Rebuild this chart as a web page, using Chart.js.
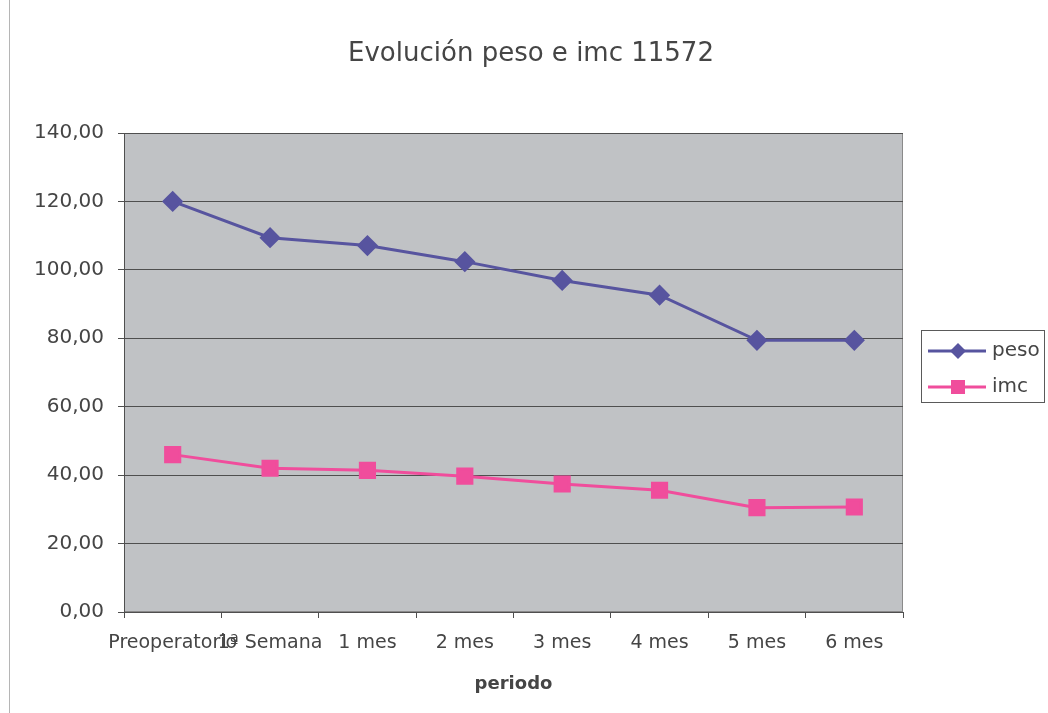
<!DOCTYPE html>
<html>
<head>
<meta charset="utf-8">
<script src="https://cdn.jsdelivr.net/npm/chart.js@4/dist/chart.umd.min.js"></script>
<style>
  html, body { margin: 0; padding: 0; background: #ffffff; }
  #wrap { position: relative; width: 1048px; height: 713px; }
  #edge { position: absolute; left: 9px; top: 0; width: 1px; height: 713px; background: #b5b5b5; }
  canvas { position: absolute; left: 0; top: 0; }
</style>
</head>
<body>
<div id="wrap">
  <canvas id="c" width="1048" height="713"></canvas>
  <div id="edge"></div>
</div>
<script>
const TITLE = 'Evolución peso e imc 11572';
const X_TITLE = 'periodo';
const CATEGORIES = ['Preoperatorio', '1ª Semana', '1 mes', '2 mes', '3 mes', '4 mes', '5 mes', '6 mes'];
const PESO = [120.0, 109.4, 107.1, 102.4, 96.9, 92.6, 79.4, 79.4];
const IMC = [46.0, 42.0, 41.4, 39.7, 37.4, 35.6, 30.5, 30.7];
const Y_TICKS = [0, 20, 40, 60, 80, 100, 120, 140];
const SERIES_NAMES = ['peso', 'imc'];
const SERIES_COLORS = ['#57549f', '#f04d9c'];

const FONT = '"DejaVu Sans", Verdana, sans-serif';
const TEXT = '#454545';
const GRID = '#4f4f4f';

const CA = { left: 124, right: 903, top: 133, bottom: 612 };

const plotBg = {
  id: 'plotBg',
  beforeDraw(chart) {
    const { ctx, chartArea: a } = chart;
    ctx.save();
    ctx.fillStyle = '#c0c2c5';
    ctx.fillRect(a.left, a.top, a.right - a.left, a.bottom - a.top);
    ctx.strokeStyle = '#8a8a8a';
    ctx.lineWidth = 1;
    ctx.strokeRect(a.left + 0.5, a.top + 0.5, a.right - a.left - 1, a.bottom - a.top - 1);
    ctx.restore();
  }
};

const titleAndLegend = {
  id: 'titleAndLegend',
  afterDraw(chart) {
    const { ctx } = chart;
    ctx.save();
    // title
    ctx.fillStyle = TEXT;
    ctx.font = '26px ' + FONT;
    ctx.textAlign = 'center';
    ctx.textBaseline = 'middle';
    ctx.fillText(TITLE, 531, 54);
    // legend
    const bx = 921, by = 330, bw = 124, bh = 73;
    ctx.fillStyle = '#ffffff';
    ctx.fillRect(bx, by, bw, bh);
    ctx.strokeStyle = '#5a5a5a';
    ctx.lineWidth = 1;
    ctx.strokeRect(bx + 0.5, by + 0.5, bw - 1, bh - 1);
    chart.data.datasets.forEach((ds, i) => {
      const y = by + 21 + i * 36;
      ctx.strokeStyle = ds.borderColor;
      ctx.lineWidth = 3;
      ctx.beginPath();
      ctx.moveTo(928, y);
      ctx.lineTo(986, y);
      ctx.stroke();
      ctx.fillStyle = ds.borderColor;
      ctx.beginPath();
      if (i === 0) {
        const r = 8;
        ctx.moveTo(958, y - r); ctx.lineTo(958 + r, y); ctx.lineTo(958, y + r); ctx.lineTo(958 - r, y);
        ctx.closePath();
      } else {
        ctx.rect(958 - 7, y - 7, 14, 14);
      }
      ctx.fill();
      ctx.fillStyle = TEXT;
      ctx.font = '20px ' + FONT;
      ctx.textAlign = 'left';
      ctx.textBaseline = 'middle';
      ctx.fillText(ds.label, 992, y);
    });
    ctx.restore();
  }
};

new Chart(document.getElementById('c'), {
  type: 'line',
  data: {
    labels: CATEGORIES,
    datasets: [
      {
        label: SERIES_NAMES[0], data: PESO,
        borderColor: SERIES_COLORS[0], backgroundColor: SERIES_COLORS[0],
        borderWidth: 3, pointStyle: 'rectRot', pointRadius: 8.5, pointHoverRadius: 8.5,
        tension: 0, fill: false
      },
      {
        label: SERIES_NAMES[1], data: IMC,
        borderColor: SERIES_COLORS[1], backgroundColor: SERIES_COLORS[1],
        borderWidth: 3, pointStyle: 'rect', pointRadius: 10, pointHoverRadius: 10,
        tension: 0, fill: false
      }
    ]
  },
  options: {
    responsive: false,
    animation: false,
    events: [],
    layout: { padding: { left: 0, right: 1048 - CA.right, top: CA.top, bottom: 0 } },
    plugins: {
      legend: { display: false },
      title: { display: false },
      tooltip: { enabled: false }
    },
    scales: {
      x: {
        offset: true,
        grid: { display: true, offset: true, drawOnChartArea: false, drawTicks: true, tickLength: 6, color: GRID },
        border: { display: true, color: GRID, width: 1 },
        ticks: {
          autoSkip: false, maxRotation: 0, minRotation: 0,
          color: TEXT, font: { family: FONT, size: 19 }, padding: 14
        },
        title: {
          display: true, text: X_TITLE, color: TEXT,
          font: { family: FONT, size: 18, weight: 'bold' },
          padding: { top: 0, bottom: 18 }
        },
        afterFit(scale) { scale.height = 713 - CA.bottom; }
      },
      y: {
        min: 0, max: 140,
        afterBuildTicks(scale) { scale.ticks = Y_TICKS.map(v => ({ value: v })); },
        grid: { color: GRID, drawTicks: true, tickLength: 6, lineWidth: 1 },
        border: { display: true, color: GRID, width: 1 },
        ticks: {
          color: TEXT, font: { family: FONT, size: 20 }, padding: 14,
          callback: (v) => Number(v).toFixed(2).replace('.', ',')
        },
        afterFit(scale) { scale.width = CA.left; }
      }
    }
  },
  plugins: [plotBg, titleAndLegend]
});
</script>
</body>
</html>
